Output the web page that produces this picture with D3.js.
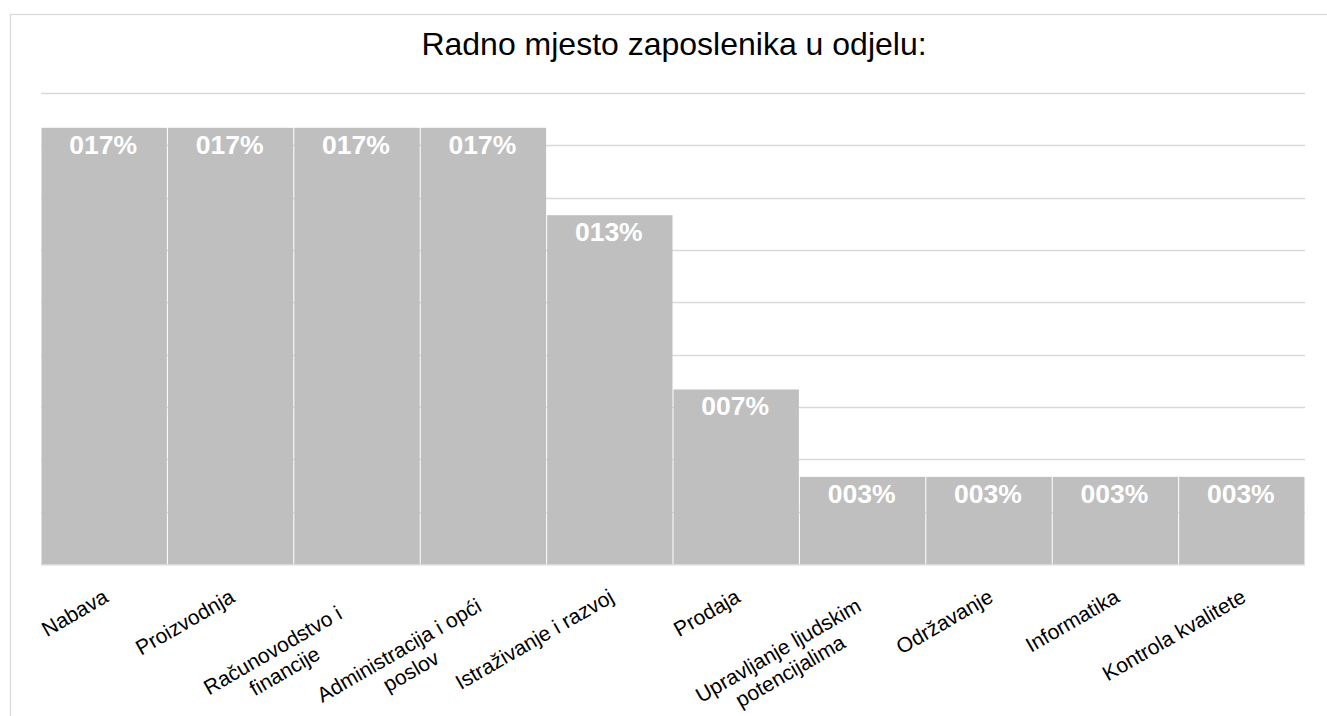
<!DOCTYPE html>
<html>
<head>
<meta charset="utf-8">
<script src="https://cdn.jsdelivr.net/npm/d3@7"></script>
<style>
  html, body { margin: 0; padding: 0; background: #fff; }
  svg { display: block; font-family: "Liberation Sans", Arial, sans-serif; }
</style>
</head>
<body>
<svg id="chart" width="1327" height="716"></svg>
<script>
const title = "Radno mjesto zaposlenika u odjelu:";
const categories = [
  "Nabava",
  "Proizvodnja",
  "Računovodstvo i financije",
  "Administracija i opći poslov",
  "Istraživanje i razvoj",
  "Prodaja",
  "Upravljanje ljudskim potencijalima",
  "Održavanje",
  "Informatika",
  "Kontrola kvalitete"
];
const values = [0.1667, 0.1667, 0.1667, 0.1667, 0.1333, 0.0667, 0.0333, 0.0333, 0.0333, 0.0333];
const yDomain = [0, 0.18];
const gridStep = 0.02;

const W = 1327, H = 716;
const margin = { left: 41, right: 22, top: 93, bottom: 152 };
const svg = d3.select("#chart");

// outer chart border
svg.append("rect")
  .attr("x", 10.5).attr("y", 14.5)
  .attr("width", W + 20).attr("height", H + 20)
  .attr("fill", "#fff").attr("stroke", "#d9d9d9").attr("stroke-width", 1.3);

const x = d3.scaleBand()
  .domain(categories)
  .range([margin.left, W - margin.right])
  .padding(0);

const y = d3.scaleLinear()
  .domain(yDomain)
  .range([H - margin.bottom, margin.top]);

// gridlines
const gridVals = d3.range(yDomain[0] + gridStep, yDomain[1] + gridStep / 2, gridStep);
svg.append("g").selectAll("line").data(gridVals).join("line")
  .attr("x1", margin.left).attr("x2", W - margin.right)
  .attr("y1", d => Math.round(y(d)) + 0.5).attr("y2", d => Math.round(y(d)) + 0.5)
  .attr("stroke", "#d9d9d9").attr("stroke-width", 1.5);

// bars
svg.append("g").selectAll("rect").data(values).join("rect")
  .attr("x", (d, i) => x(categories[i]) + 0.5)
  .attr("width", x.bandwidth() - 1)
  .attr("y", d => y(d))
  .attr("height", d => y(0) - y(d))
  .attr("fill", "#bfbfbf");

// baseline axis
svg.append("line")
  .attr("x1", margin.left).attr("x2", W - margin.right)
  .attr("y1", y(0) + 0.75).attr("y2", y(0) + 0.75)
  .attr("stroke", "#d9d9d9").attr("stroke-width", 1.5);

// data labels
const fmt = d3.format("04.0%");
svg.append("g").selectAll("text").data(values).join("text")
  .attr("x", (d, i) => x(categories[i]) + x.bandwidth() / 2 - 1)
  .attr("y", d => y(d) + 26)
  .attr("text-anchor", "middle")
  .attr("fill", "#fff")
  .attr("font-weight", "bold")
  .attr("font-size", 26.5)
  .text(d => fmt(d));

// title
svg.append("text")
  .attr("x", 674)
  .attr("y", 55)
  .attr("text-anchor", "middle")
  .attr("font-size", 32)
  .attr("fill", "#000")
  .text(title);

// x axis labels: rotated, wrapped
const labelSize = 21, lineH = 24, wrapW = 205, angle = -30;
const measurer = svg.append("text").attr("font-size", labelSize).attr("visibility", "hidden");
function width(s) { measurer.text(s); return measurer.node().getComputedTextLength(); }
function wrap(s) {
  const words = s.split(" ");
  const lines = [];
  let cur = "";
  for (const w of words) {
    const t = cur ? cur + " " + w : w;
    if (width(t) > wrapW && cur) { lines.push(cur); cur = w; }
    else cur = t;
  }
  lines.push(cur);
  return lines;
}
const lg = svg.append("g");
categories.forEach(c => {
  const lines = wrap(c);
  const bw = lines.length > 1 ? wrapW : width(lines[0]);
  const dy = lines.length > 1 ? 5 : 0;
  const g = lg.append("g")
    .attr("transform", `translate(${x(c) + x.bandwidth() / 2 - 2},${y(0) + 24}) rotate(${angle})`);
  lines.forEach((ln, k) => {
    g.append("text")
      .attr("x", -bw / 2)
      .attr("y", 15 + dy + k * lineH)
      .attr("text-anchor", "middle")
      .attr("font-size", labelSize)
      .attr("fill", "#000")
      .text(ln);
  });
});
measurer.remove();
</script>
</body>
</html>
